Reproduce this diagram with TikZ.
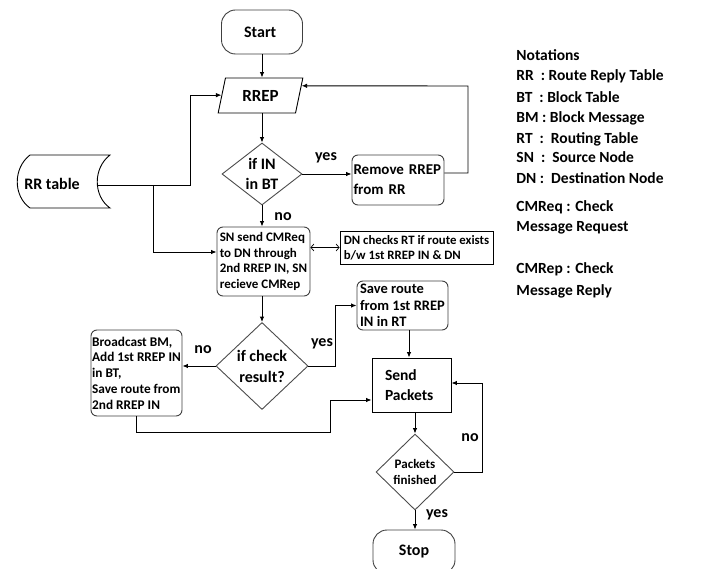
\documentclass[tikz,border=0pt]{standalone}
\usepackage{fontspec}
\setmainfont{Carlito}
\usetikzlibrary{shapes.geometric,shapes.misc,arrows.meta,calc}
\newcommand\fsz[2]{\fontsize{#1}{#2}\selectfont\bfseries}
\begin{document}
\begin{tikzpicture}[x=1pt,y=-1pt,line width=0.9pt,
  arr/.style={-{Latex[length=5.5pt,width=4.5pt]}},
  darr/.style={{Straight Barb[length=3pt,width=7pt]}-{Straight Barb[length=3pt,width=7pt]}, line width=0.7pt},
  rbox/.style={draw=black!75, rounded corners=6pt, inner sep=1pt, align=left},
  dia/.style={draw=black!70, diamond, inner sep=0pt},
  lab/.style={font=\fsz{16}{19}},
  note/.style={anchor=west, inner sep=0pt, font=\fsz{15.5}{19}}]
\useasboundingbox (0,0) rectangle (704,569);
\clip (0,0) rectangle (704,569);
\fill[white] (0,0) rectangle (704,569);

% nodes
\node[draw=black!75, rounded corners=14pt, minimum width=81, minimum height=44, font=\fsz{16}{19}] (start) at (262,32) {Start~~};
\node[draw, trapezium, trapezium left angle=71, trapezium right angle=109, trapezium stretches=true,
      minimum width=85, minimum height=35, inner sep=0pt, font=\fsz{17}{20}] (rrep) at (260.5,95.5) {RREP};
\node[dia, minimum width=80, minimum height=62,
      label={[font=\fsz{16}{20}, align=center]center:if IN\\in BT}] (d1) at (262,174) {};
\node[rbox, minimum width=92, minimum height=50, text width=89, font=\fsz{15}{20}] (rem) at (398,180) {Remove RREP\\from RR};
\draw (30,155) -- (110,155) .. controls (93,168) and (93,196) .. (110,208) -- (30,208) .. controls (13,196) and (13,168) .. (30,155);
\node[font=\fsz{16}{19}] (rrt) at (52,184) {RR table};
\coordinate (rrR) at (97,185);
\coordinate (j1) at (153,185);
\coordinate (j2) at (190,185);
\coordinate (c1) at (468,86);

\node[rbox, minimum width=93, minimum height=69, font=\fsz{13}{15.5}] (sn) at (263.5,261.5)
  {SN send CMReq\\to DN through\\2nd RREP IN, SN\\recieve CMRep};
\node[draw, minimum width=153, minimum height=33, inner sep=1pt, align=left, font=\fsz{12.8}{15}] (dn) at (416.5,247.5)
  {DN checks RT if route exists\\b/w 1st RREP IN \& DN};
\node[dia, minimum width=92, minimum height=87,
      label={[font=\fsz{16}{21}, align=center]center:if check\\result?}] (d2) at (262,366) {};
\node[rbox, minimum width=91, minimum height=86, font=\fsz{13.3}{15.7}] (bc) at (136.5,373)
  {Broadcast BM,\\Add 1st RREP IN\\in BT,\\Save route from\\2nd RREP IN};
\node[rbox, minimum width=91, minimum height=49, font=\fsz{14.5}{16.5}] (save) at (402.5,305.5)
  {Save route\\from 1st RREP\\IN in RT};
\node[draw, minimum width=79, minimum height=54, inner sep=0pt, text width=53, align=left, font=\fsz{15.5}{20}] (send) at (411.5,385)
  {Send\\Packets};
\node[dia, minimum width=78, minimum height=76,
      label={[font=\fsz{13}{16}, align=center]center:Packets\\finished}] (d3) at (415,472) {};
\node[draw=black!75, rounded corners=14pt, minimum width=82, minimum height=44, font=\fsz{16}{19}] (stop) at (414,552) {Stop};

% connectors
\draw[arr] (start.south) -- (start.south |- rrep.north);
\draw[arr] (d1.north |- rrep.south) -- (d1.north);
\draw[arr] (d1.east) -- (d1.east -| rem.west);
\draw[arr] ([yshift=7pt]rem.east) -| (c1) -- ($(rrep.top right corner)!0.23!(rrep.bottom right corner)$);
\draw[arr] (rrR) -- (j2) |- ($(rrep.top left corner)!0.49!(rrep.bottom left corner)$);
\draw[arr] (j1) |- ([yshift=9.5pt]sn.west);
\draw[arr] (d1.south) -- (sn.north -| d1.south);
\draw[darr] (dn.west -| sn.east) -- (dn.west);
\draw[arr] (sn.south -| d2.north) -- (d2.north);
\draw[arr] (d2.west) -- (d2.west -| bc.east);
\draw[arr] (d2.east) -- ++(27,0) |- (save.west);
\draw[arr] ([xshift=6.5pt]save.south) -- ([xshift=6.5pt]save.south |- send.north);
\coordinate (c2) at (330,432);
\draw[arr] (bc.south) |- (c2) |- ([yshift=-15pt]send.west);
\draw[arr] (d3.north |- send.south) -- (d3.north);
\draw[arr] (d3.east) -- ++(28,0) |- ([yshift=2pt]send.east);
\draw[arr] (d3.south) -- (stop.north -| d3.south);

% labels
\node[lab] (l1) at (326,158) {yes};
\node[lab] (l2) at (283,217) {no};
\node[lab] (l3) at (203,350) {no};
\node[lab] (l4) at (322,344) {yes};
\node[lab] (l5) at (470,438) {no};
\node[lab] (l6) at (437,515) {yes};

% notations
\node[note] (n0) at (516,55) {Notations};
\node[note] (n1) at (516,76) {RR~ : Route Reply Table};
\node[note] (n2) at (516,97) {BT~ : Block Table};
\node[note] (n3) at (516,118) {BM : Block Message};
\node[note] (n4) at (516,139) {RT~ :~ Routing Table};
\node[note] (n5) at (516,157) {SN~ :~ Source Node};
\node[note] (n6) at (516,178) {DN :~ Destination Node};
\node[note] (n7) at (516,207) {CMReq : Check};
\node[note] (n8) at (516,228) {Message Request};
\node[note] (n9) at (516,269) {CMRep : Check};
\node[note] (n10) at (516,291) {Message Reply};
\end{tikzpicture}
\end{document}
